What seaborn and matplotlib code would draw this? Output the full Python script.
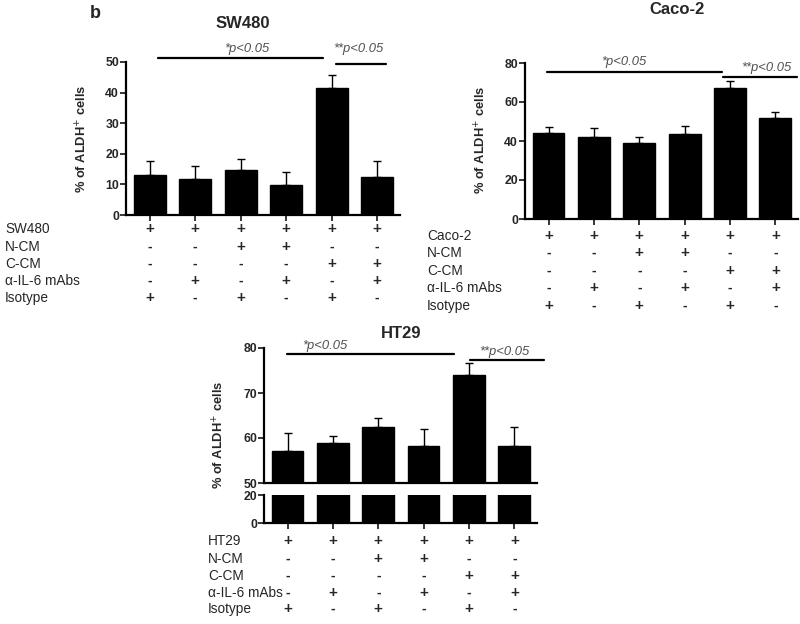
"""
ALDH+ cell percentages for SW480, Caco-2 and HT29 under conditioned media
"""

import numpy as np
import matplotlib
matplotlib.use("Agg")
import matplotlib.pyplot as plt
from matplotlib.transforms import blended_transform_factory
import seaborn as sns

# ---- data ----
conditions = ["c1", "c2", "c3", "c4", "c5", "c6"]

sw480_mean = [13.1, 11.7, 14.6, 9.8, 41.5, 12.4]
sw480_top = [17.7, 16.0, 18.3, 13.9, 45.6, 17.8]

caco2_mean = [44.3, 42.0, 39.2, 43.5, 67.1, 51.9]
caco2_top = [47.4, 46.7, 42.0, 47.8, 70.9, 55.0]

ht29_mean = [57.1, 58.9, 62.5, 58.3, 74.0, 58.3]
ht29_top = [61.2, 60.5, 64.4, 62.1, 76.7, 62.4]

row_names = ["N-CM", "C-CM", "α-IL-6 mAbs", "Isotype"]
row_signs = [["+", "+", "+", "+", "+", "+"],
             ["-", "-", "+", "+", "-", "-"],
             ["-", "-", "-", "-", "+", "+"],
             ["-", "+", "-", "+", "-", "+"],
             ["+", "-", "+", "-", "+", "-"]]

sns.set_style("ticks")
plt.rcParams['font.family'] = ['Liberation Sans', 'DejaVu Sans']

W, H = 800, 624
fig = plt.figure(figsize=(8, 6.24), dpi=100)


def box(left, top, right, bottom):
    # pixel box -> figure fraction rect
    return [left / W, 1 - bottom / H, (right - left) / W, (bottom - top) / H]


def style_axis(ax):
    sns.despine(ax=ax)
    for s in ["left", "bottom"]:
        ax.spines[s].set_linewidth(1.6)
        ax.spines[s].set_color("black")
    ax.tick_params(axis="y", length=4, width=1.3, labelsize=8.8, pad=1)
    ax.tick_params(axis="x", length=4, width=1.3, labelbottom=False)
    for lab in ax.get_yticklabels():
        lab.set_fontweight("bold")
    ax.set_xlabel("")
    ax.set_ylabel("")


def bars(ax, mean, top):
    sns.barplot(x=conditions, y=mean, color="black", width=0.7, ax=ax,
                saturation=1, edgecolor="black")
    x = np.arange(len(mean))
    up = np.array(top) - np.array(mean)
    ax.errorbar(x, mean, yerr=[np.zeros(len(mean)), up], fmt="none",
                ecolor="black", elinewidth=1.0, capsize=3, capthick=1.0)
    ax.set_xlim(-0.52, 5.5)


def sig(ax, x0, x1, y, tx, ty, txt):
    ax.plot([x0, x1], [y, y], color="black", lw=1.6, clip_on=False)
    ax.text(tx, ty, txt, ha="center", va="center", fontsize=9.4,
            style="italic", color="#505050", clip_on=False)


def table(ax, name, label_x, row_y):
    tr = blended_transform_factory(ax.transData, fig.transFigure)
    names = [name] + row_names
    for i, y in enumerate(row_y):
        fig.text(label_x / W, 1 - y / H, names[i], ha="left", va="center",
                 fontsize=9.8)
        for j, s in enumerate(row_signs[i]):
            ax.text(j, 1 - y / H, s, transform=tr, ha="center", va="center",
                    fontsize=11 if s == "+" else 10, fontweight="bold")


def ylab(x, y, size=9.3):
    fig.text(x / W, 1 - y / H, "% of ALDH$^{+}$ cells", rotation=90,
             ha="center", va="center", fontsize=size, fontweight="bold")


# ---- SW480 ----
ax1 = fig.add_axes(box(126, 62, 400, 215))
bars(ax1, sw480_mean, sw480_top)
ax1.set_ylim(0, 50)
ax1.set_yticks([0, 10, 20, 30, 40, 50])
style_axis(ax1)
sig(ax1, 0.18, 3.8, 51.3, 2.13, 54.4, "*p<0.05")
sig(ax1, 4.1, 5.2, 49.3, 4.58, 54.4, "**p<0.05")
table(ax1, "SW480", 5, [229, 247, 264, 281, 298])
ylab(82, 139)
fig.text(243 / W, 1 - 23 / H, "SW480", ha="center", va="center",
         fontsize=12, fontweight="bold")
fig.text(95 / W, 1 - 13 / H, "b", ha="center", va="center",
         fontsize=13, fontweight="bold")

# ---- Caco-2 ----
ax2 = fig.add_axes(box(525, 63, 798, 219))
bars(ax2, caco2_mean, caco2_top)
ax2.set_ylim(0, 80)
ax2.set_yticks([0, 20, 40, 60, 80])
style_axis(ax2)
sig(ax2, -0.03, 3.82, 75.4, 1.66, 80.6, "*p<0.05")
sig(ax2, 3.84, 5.47, 72.8, 4.81, 77.5, "**p<0.05")
table(ax2, "Caco-2", 427, [236, 253, 271, 288, 306])
ylab(481, 140)
fig.text(677 / W, 1 - 10 / H, "Caco-2", ha="center", va="center",
         fontsize=12, fontweight="bold")

# ---- HT29 (broken axis) ----
ax3 = fig.add_axes(box(264, 348, 537, 483))
bars(ax3, ht29_mean, ht29_top)
ax3.set_ylim(50, 80)
ax3.set_yticks([50, 60, 70, 80])
style_axis(ax3)
ax3.tick_params(axis="x", length=0)

ax4 = fig.add_axes(box(264, 495, 537, 523))
bars(ax4, ht29_mean, ht29_top)
ax4.set_ylim(0, 20)
ax4.set_yticks([0, 20])
style_axis(ax4)

sig(ax3, -0.01, 3.67, 78.7, 0.83, 80.5, "*p<0.05")
sig(ax3, 4.02, 5.66, 77.3, 4.77, 79.2, "**p<0.05")
table(ax4, "HT29", 208, [541, 559, 576, 593, 609])
ylab(219, 435)
fig.text(401 / W, 1 - 334 / H, "HT29", ha="center", va="center",
         fontsize=12, fontweight="bold")

fig.savefig("out.png", dpi=100, facecolor="white")
